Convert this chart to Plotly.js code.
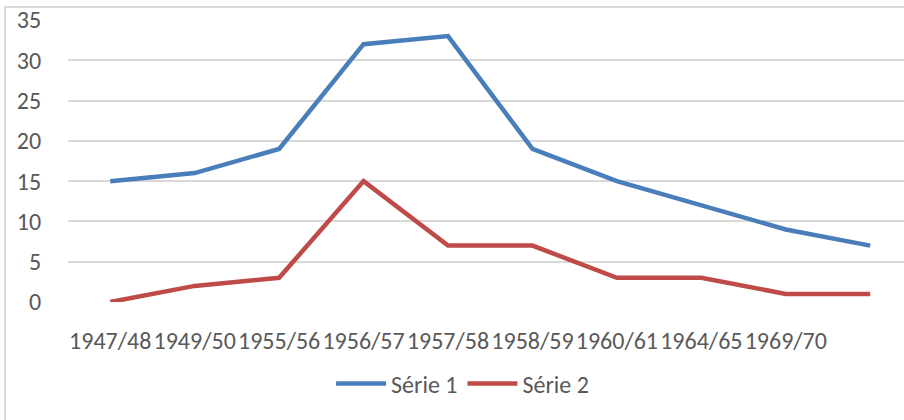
<!DOCTYPE html>
<html>
<head>
<meta charset="utf-8">
<script src="https://cdn.plot.ly/plotly-3.0.1.min.js"></script>
<style>
  body { margin: 0; padding: 0; background: #fff; }
  #wrap { position: relative; width: 904px; height: 420px; overflow: hidden; }
  #chart { width: 904px; height: 420px; }
  #frame { position: absolute; left: 4px; top: 6px; width: 920px; height: 430px;
           border: 2px solid #d9d9d9; box-sizing: border-box; pointer-events: none; }
</style>
</head>
<body>
<div id="wrap">
  <div id="chart"></div>
  <div id="frame"></div>
</div>
<script>
const categories = ['1947/48', '1949/50', '1955/56', '1956/57', '1957/58', '1958/59', '1960/61', '1964/65', '1969/70', ''];
const serie1 = [15, 16, 19, 32, 33, 19, 15, 12, 9, 7];
const serie2 = [0, 2, 3, 15, 7, 7, 3, 3, 1, 1];
const yTicks = [0, 5, 10, 15, 20, 25, 30, 35];

const xIdx = categories.map((_, i) => i);
const font = 'Carlito, Calibri, Lato, sans-serif';

const traces = [
  { x: xIdx, y: serie1, name: 'Série 1', type: 'scatter', mode: 'lines',
    line: { color: '#4a7ebb', width: 4.5 } },
  { x: xIdx, y: serie2, name: 'Série 2', type: 'scatter', mode: 'lines',
    line: { color: '#be4b48', width: 4.5 } }
];

const layout = {
  width: 904, height: 420,
  margin: { l: 68, r: 0, t: 20, b: 118 },
  paper_bgcolor: 'rgba(0,0,0,0)', plot_bgcolor: 'rgba(0,0,0,0)',
  font: { family: font, size: 24, color: '#595959' },
  showlegend: true,
  legend: { orientation: 'h', x: 0.472, xanchor: 'center', y: -0.29, yanchor: 'middle',
            font: { family: font, size: 24, color: '#595959' }, itemwidth: 50 },
  xaxis: {
    range: [-0.5, 9.4], tickmode: 'array', tickvals: xIdx, ticktext: categories,
    tickangle: 0, showgrid: false, zeroline: false, showline: false,
    ticks: 'outside', ticklen: 17, tickcolor: 'rgba(0,0,0,0)',
    tickfont: { family: font, size: 24, color: '#595959' }
  },
  yaxis: {
    range: [0, 35], tickmode: 'array', tickvals: yTicks,
    showgrid: true, gridcolor: '#d9d9d9', gridwidth: 2, zeroline: false, showline: false,
    ticks: 'outside', ticklen: 21, tickcolor: 'rgba(0,0,0,0)',
    tickfont: { family: font, size: 24, color: '#595959' }
  }
};

Plotly.newPlot('chart', traces, layout, { displayModeBar: false, staticPlot: true });
</script>
</body>
</html>
